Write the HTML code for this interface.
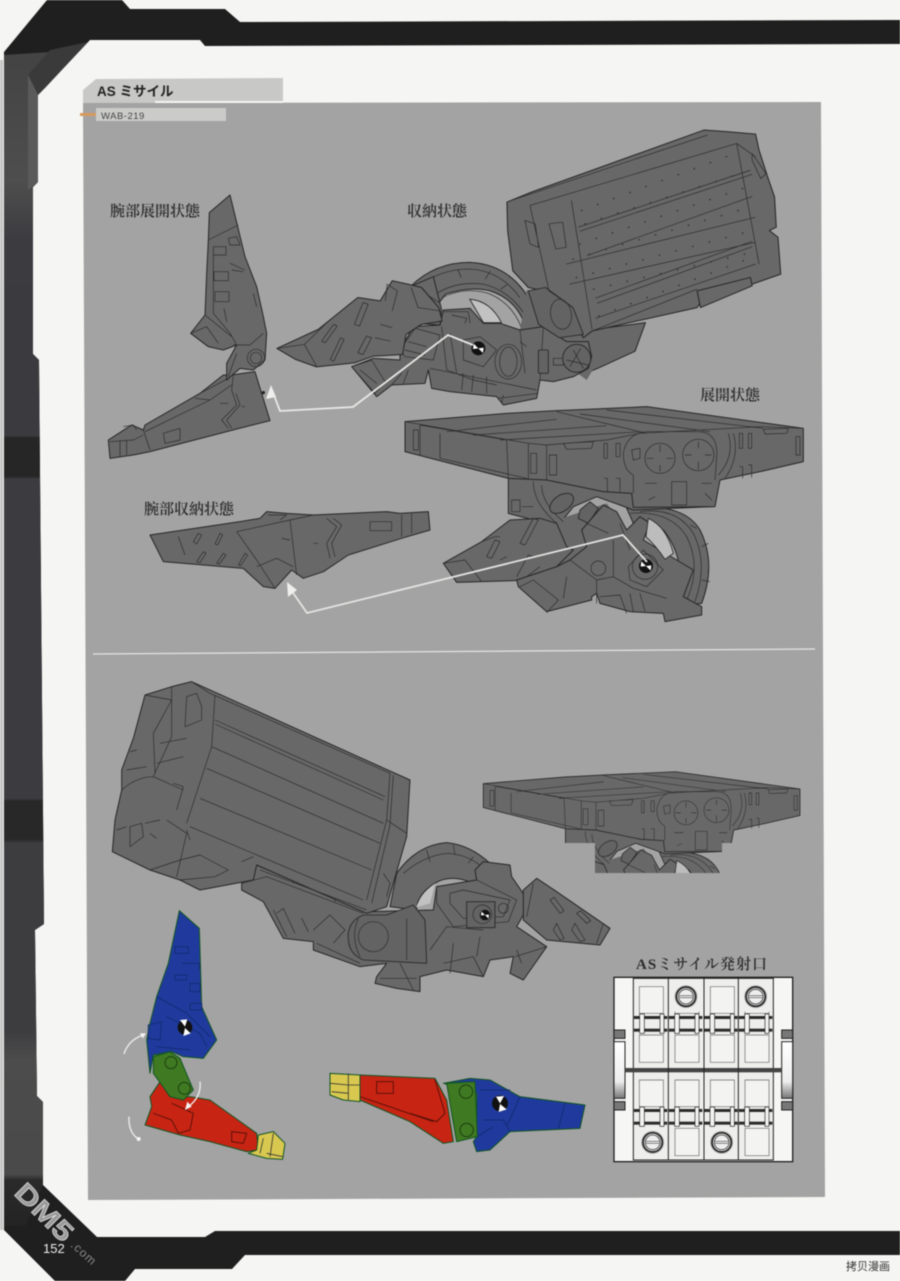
<!DOCTYPE html>
<html><head><meta charset="utf-8"><style>
html,body{margin:0;padding:0;background:#f5f5f3;overflow:hidden}
svg{display:block;filter:blur(.45px)}
.g{fill:#686868;stroke:#262626;stroke-width:3;stroke-linejoin:round}
.k{fill:#636363;stroke:#262626;stroke-width:2.6;stroke-linejoin:round}
.l{fill:none;stroke:#2b2b2b;stroke-width:2;stroke-linejoin:round}
.d{fill:none;stroke:#333;stroke-width:5;stroke-linecap:round;stroke-dasharray:0 50}
.lab{font-family:"Liberation Serif","Noto Serif CJK SC",serif;font-size:15px;fill:#2b2b2b;font-weight:600}
.c{stroke:#152;stroke-width:3;stroke-linejoin:round}
</style></head><body>
<svg width="900" height="1281" viewBox="0 0 900 1281" xmlns="http://www.w3.org/2000/svg">
<defs>
<linearGradient id="col" gradientUnits="userSpaceOnUse" x1="0" y1="55" x2="0" y2="1226">
<stop offset=".004" stop-color="#444"/><stop offset=".107" stop-color="#4e4e4e"/><stop offset=".158" stop-color="#3c3c40"/><stop offset=".325" stop-color="#3b3b3f"/>
<stop offset=".327" stop-color="#262626"/><stop offset=".360" stop-color="#262626"/><stop offset=".362" stop-color="#3c3c40"/><stop offset=".635" stop-color="#3c3c40"/>
<stop offset=".637" stop-color="#282828"/><stop offset=".670" stop-color="#282828"/><stop offset=".673" stop-color="#3d3d40"/><stop offset=".833" stop-color="#3d3d40"/>
<stop offset=".858" stop-color="#4c4c4c"/><stop offset=".956" stop-color="#4a4a4a"/><stop offset=".961" stop-color="#2a2a2a"/><stop offset="1" stop-color="#242424"/>
</linearGradient>
<linearGradient id="tab" x1="0" y1="0" x2="0" y2="1"><stop offset="0" stop-color="#fff"/><stop offset=".7" stop-color="#eee"/><stop offset="1" stop-color="#777"/></linearGradient>
<g id="tg"><circle r="21" fill="#111"/><path d="M-14,-14 L0,0 L-16,2 Z M14,14 L0,0 L16,-2 Z" fill="#fff"/></g>
<clipPath id="smallclip"><path d="M470,760H810V843H722V873H595V843H565V843H470Z"/></clipPath>

<!-- deployed launcher + arm, in zoom3 coordinates -->
<g id="dep">
<path class="g" d="M680,355 Q850,335 900,420 Q950,520 905,640 L820,650 Q870,520 790,420 L700,400Z"/>
<path class="l" d="M690,370 Q810,360 860,440 Q905,530 860,630 M720,365 Q830,350 880,430 Q925,520 885,635 M870,405 L890,415 M905,470 L925,460 M905,570 L930,575"/>
<path class="g" d="M325,265 L325,370 L400,390 L480,400 L520,350 L590,320 L660,345 L700,360 L940,350 L945,270 L700,250 L400,250Z"/>
<path d="M470,390 L620,340 L680,420 L620,540 L480,535Z" fill="#686868"/>
<path class="l" d="M400,275 Q400,340 470,400 M425,285 Q425,340 490,395 M335,330 L360,330 L360,365 L335,365Z M365,350 L400,350"/>
<ellipse class="k" cx="485" cy="340" rx="40" ry="24" transform="rotate(-35 485 340)"/>
<path class="k" d="M540,360 L570,335 L595,355 L565,400 L535,385Z"/>
<path class="g" d="M130,520 L245,455 L330,390 L420,385 L470,400 L500,470 L520,480 L470,530 L380,560 L345,572 L170,577Z"/>
<path class="l" d="M130,520 L195,510 L245,575 M245,455 L285,440 L300,440 M360,460 L400,385 L415,390 L375,465Z M260,500 L285,450 L300,455 L275,505Z M300,510 L320,500 M420,530 L380,560 M350,560 L385,495 L400,500"/>
<path class="g" d="M510,510 L560,470 L545,420 L610,345 L650,365 L680,420 L720,380 L750,400 L730,450 L830,510 L880,540 L850,620 L905,650 L905,675 L795,695 L790,670 L690,665 L600,640 L590,610 L575,620 L575,630 L440,665 L355,590 L350,570 L470,530Z"/>
<path d="M745,385 Q800,410 820,490 L795,508 Q770,470 738,440Z" fill="#bcbcbc" stroke="#262626" stroke-width="2.5"/>
<path class="l" d="M510,510 L590,570 L640,560 L700,595 L800,625 M590,570 L590,640 M640,450 L640,560 M360,590 L400,570 L475,630 L440,668 M500,560 L490,625 M600,620 L660,615 L680,670 M690,610 L700,668 M720,610 L735,665 M560,400 L625,430 M660,400 L690,480"/>
<circle class="l" cx="595" cy="535" r="22"/><path class="l" d="M685,530 L730,480 L790,540 L740,590 L690,570Z"/><circle class="l" cx="735" cy="530" r="38"/>
<use href="#tg" x="738" y="528"/>
<path class="g" d="M15,95 L320,70 L470,62 L740,50 L1210,115 L1210,215 L1080,245 L960,270 L945,350 L700,352 L695,310 L610,305 L440,270 L325,265 L15,185Z"/>
<path class="l" d="M15,95 L385,160 L440,165 L620,150 L720,130 L1080,110 L1210,115 M60,105 L60,195 M60,105 L320,150 L325,265 M120,130 L120,205 L380,265 M140,125 L470,88 M220,135 L620,107 M300,150 L725,125 M470,65 L740,130 M620,60 L1090,115 M540,72 L930,125 M385,160 L385,270 M440,165 L440,270 M700,255 L700,310 M40,120 L55,120 L55,180 L40,180Z M392,190 L410,190 L410,250 L392,250Z M448,195 L470,195 L470,255 L448,255Z M490,160 L580,155 L575,175 L500,178Z M612,160 L622,160 L622,205 L612,205Z M648,160 L660,160 L660,200 L648,200Z M612,265 L622,265 L622,305 M648,265 L660,265 L660,305 M1018,130 L1028,130 L1028,175 L1018,175Z M1045,130 L1055,130 L1055,175 L1045,175Z M1018,230 L1028,230 L1028,265 M1045,225 L1055,225 L1055,262 M1188,140 L1200,140 L1200,195 L1188,195Z M1090,118 L1165,115 L1160,130 L1095,132Z M815,275 L860,275 L860,345 L815,345Z M735,280 L770,280 M905,280 L935,280 M745,330 L765,320 M915,310 L935,330"/>
<path class="l" d="M700,255 Q670,240 670,190 Q680,130 740,125 L900,125 Q955,130 950,200 L945,270 M985,130 Q1005,200 955,255 M1000,130 Q1020,200 975,265"/>
<circle class="l" cx="780" cy="205" r="45"/><circle class="l" cx="895" cy="195" r="47"/>
<path class="l" d="M780,165 V185 M780,225 V245 M740,205 H760 M800,205 H820 M895,155 V175 M895,215 V238 M855,195 H875 M915,195 H935"/>
<path class="l" d="M695,180 L720,175 L720,205 L700,210Z"/>
</g>

<!-- launcher cell -->
<g id="cellT"><path d="M18,25 H90 V105 H18Z M18,170 H90 V252 H18Z" fill="#f3f3f1" stroke="#666" stroke-width="2"/></g>
<g id="band"><rect x="0" y="0" width="100" height="9" fill="#2b2b2b"/><rect x="0" y="38" width="100" height="9" fill="#2b2b2b"/><rect x="17" y="-6" width="14" height="58" fill="#f2f2f0" stroke="#222" stroke-width="2"/><rect x="78" y="-6" width="12" height="58" fill="#f2f2f0" stroke="#222" stroke-width="2"/></g>
<g id="port"><circle r="33" fill="none" stroke="#999" stroke-width="2"/><circle r="29" fill="#cfcfcf" stroke="#222" stroke-width="5"/><circle r="22" fill="#eee" stroke="#444" stroke-width="2.5"/><path d="M-20,-3 H20 M-20,3 H20" stroke="#444" stroke-width="2"/></g>
</defs>

<rect width="900" height="1281" fill="#f5f5f3"/>
<!-- frame -->
<path d="M4,52 L47,0 L122,0 L130,9 L225,9 L240,22 L900,20 L900,44 L205,46 L200,40 L90,40 L38,95 L38,182 L33,187 L33,354 L39,360 L44,924 L35,930 L37,1096 L43,1102 L43,1185 L97,1237 L205,1237 L215,1231 L900,1231 L900,1255 L245,1255 L232,1269 L135,1269 L125,1281 L55,1281 L4,1230Z" fill="#1f1f1f"/>
<path d="M4,55 L50,52 L38,95 L38,182 L33,187 L33,354 L39,360 L44,924 L35,930 L37,1096 L43,1102 L43,1185 L26,1225 L4,1226Z" fill="url(#col)"/>
<path d="M50,50 L88,42 L45,88 L38,95 L28,75Z" fill="#3a3a3a"/>
<path d="M28,75 L38,95 L38,182 L28,190Z" fill="#5a5a5a"/>
<rect x="0" y="60" width="3" height="1170" fill="#c4c4c4"/>

<!-- panel -->
<path d="M83,103 L821,102 L825,1197 L88,1200Z" fill="#a3a3a3"/>
<path d="M83,90 L96,79 L283,78 L283,101 L155,103 L83,103Z" fill="#c8c8c6"/>
<rect x="155" y="101" width="128" height="2" fill="#f5f5f3"/>
<rect x="96" y="108" width="130" height="13" fill="#cbcbc9"/>
<rect x="80" y="113" width="16" height="3" fill="#d69a5f"/>
<text x="97" y="96" font-family="'Liberation Sans','Noto Sans CJK JP',sans-serif" font-size="13.5" font-weight="700" fill="#222">AS ミサイル</text>
<text x="101" y="119" font-family="'Liberation Sans',sans-serif" font-size="9.5" letter-spacing=".5" fill="#444">WAB-219</text>
<path d="M93,654 L815,649" stroke="#e4e4e2" stroke-width="1.2"/>

<text class="lab" x="110" y="216">腕部展開状態</text>
<text class="lab" x="407" y="216">収納状態</text>
<text class="lab" x="700" y="400">展開状態</text>
<text class="lab" x="144" y="514">腕部収納状態</text>
<text class="lab" x="636" y="969" textLength="131">ASミサイル発射口</text>

<!-- stowed top -->
<g transform="translate(270,120) scale(.3444,.335)">
<path class="g" d="M900,650 L940,625 L1090,605 L1060,690 L950,742 L930,750Z"/>
<path class="g" d="M410,495 Q480,425 580,425 Q690,430 750,530 L795,625 L745,630 Q725,540 640,510 Q580,495 510,520 L480,560Z"/>
<path class="l" d="M430,500 Q490,445 580,445 Q670,450 725,530 M480,520 Q540,480 620,490 Q700,510 745,590 M500,530 Q570,495 640,520 Q705,550 730,620 M545,445 L555,470 M640,450 L625,475 M690,490 L670,505"/>
<path d="M580,535 Q640,540 672,605 L620,605 Z" fill="#c2c2c2" stroke="#262626" stroke-width="2.5"/>
</g>
<!-- stowed middle body (340,270 at 1/3) -->
<g transform="translate(340,270) scale(.33333)">
<path d="M700,100 L560,60 L540,180 L740,330 L800,230Z" fill="#686868"/>
<path class="g" d="M180,240 L220,170 L300,165 L310,120 L390,115 L430,160 L480,160 L540,180 L610,170 L680,215 L745,215 L755,260 L745,295 L700,320 L640,335 L600,330 L590,385 L490,405 L470,380 L330,365 L275,355 L265,300 L255,340 L155,345 L110,380 L35,290 L100,265 L180,270Z"/>
<path class="g" d="M210,50 L280,20 L305,120 L300,165 L230,160 L235,90 L170,80Z"/>
<path class="l" d="M180,240 L225,175 L300,195 L280,270 L195,260Z M205,215 L260,230 M195,240 L255,255 M35,290 L95,270 L135,335 L105,370Z M60,300 L110,340 M155,345 L185,310 M205,300 L190,340 M270,295 L590,360 M305,170 L320,300 L400,330 L470,345 M330,190 L350,310 M310,125 L385,125 L390,160 M335,135 L380,145 L375,160 M370,310 L365,360 M400,315 L395,365 M440,320 L440,370 M475,385 L595,370 M490,375 L485,400 M540,180 L555,310 M610,170 L600,330 M240,60 L300,100 M180,100 L240,120 M560,230 L540,215 M640,265 L670,265 L670,285 L640,285Z"/>
<path class="l" d="M370,210 L420,200 L470,240 L430,290 L370,270Z"/>
<rect class="k" x="595" y="240" width="30" height="70" rx="4"/>
<ellipse class="l" cx="505" cy="275" rx="40" ry="52"/><ellipse class="l" cx="505" cy="275" rx="26" ry="44"/>
<circle class="k" cx="710" cy="265" r="42"/><path class="l" d="M722,235 L690,290 M680,270 L745,285 M700,240 L730,295"/>
<use href="#tg" x="415" y="235"/>
</g>
<g transform="translate(270,120) scale(.3444,.335)">
<path class="g" d="M20,682 L140,625 L255,530 L320,540 L355,480 L400,490 L440,500 L490,560 L500,600 L440,610 L395,640 L385,700 L300,705 L245,725 L135,737 L75,715Z"/>
<path class="l" d="M20,682 L100,670 L135,735 M100,670 L170,600 M245,610 L270,545 L285,550 L260,615Z M150,660 L185,610 L195,615 L160,665Z M175,715 L205,650 L215,655 L185,720Z M255,695 L280,645 L295,650 L270,700Z M335,540 L340,490 L370,510 L355,570 M305,650 L350,660 M320,610 L355,620 M410,500 L430,560 L495,570"/>
<path class="g" d="M688,245 L760,215 L1260,30 L1330,35 L1410,42 L1420,90 L1445,170 L1465,230 L1470,320 L1450,330 L1475,350 L1483,460 L1400,490 L1260,530 L1240,560 L935,630 L910,650 L880,600 L795,510 L750,500 L705,450 L690,330Z"/>
<path class="g" d="M1240,510 L1250,560 L1400,495 L1395,470Z"/>
<path class="k" d="M750,510 L800,500 L880,560 L910,640 L840,650 L780,610Z"/>
<ellipse class="l" cx="845" cy="580" rx="30" ry="45" transform="rotate(-10 845 580)"/>
<path class="l" d="M755,255 L1355,70 L1410,110 M875,240 L935,625 M1355,70 L1420,430 M895,320 L1395,150 M900,332 L1400,162 M920,405 L1400,228 M860,430 L1410,290 M870,490 L1410,365 M945,532 L1400,362 M950,547 L1400,378 M945,592 L1410,430 M935,630 L1240,505 M700,240 L1270,45 M755,255 L810,510 L880,560 M740,300 L770,310 L780,380 L755,370Z M810,310 L850,305 L860,380 L830,385Z M1400,100 L1440,160 L1425,175 L1400,120Z"/>
<path class="d" d="M905,270 L1350,100"/><path class="d" d="M900,370 L1385,200"/><path class="d" d="M915,310 L1380,155"/>
<path class="d" d="M880,415 L1395,260"/><path class="d" d="M890,470 L1400,330"/><path class="d" d="M940,505 L1400,395"/><path class="d" d="M955,585 L1400,410"/>
</g>

<!-- arrows -->
<path d="M272,390 L280,411 L353,407 L448,335 L473,345" fill="none" stroke="#e8e8e6" stroke-width="1.8"/>
<path d="M271,385 L266,399 L276,397Z" fill="#efefed"/>

<!-- deployed -->
<g transform="translate(400,390) scale(.33333)"><use href="#dep"/></g>
<path d="M289,587 L307,613 L623,535 L647,562" fill="none" stroke="#e4e4e2" stroke-width="1.8"/>
<path d="M287,582 L288,597 L297,590Z" fill="#efefed"/>

<!-- arm unfolded -->
<g transform="translate(100,190) scale(.33333)">
<path class="g" d="M510,692 L465,545 L395,555 L370,555 L300,610 L135,705 L130,720 L95,705 L25,750 L30,805 L100,795 L150,785 L410,717Z"/>
<path class="l" d="M300,610 L385,565 M285,625 L330,630 L395,585 M130,720 L150,780 M135,725 L330,630 M190,730 L240,715 L240,750 L195,760Z M385,715 L365,690 L410,645 L395,600 L400,555 M395,715 L380,690 L420,645 L408,610 M30,755 L100,750 L130,735 M60,750 L60,800 M80,750 L80,795 M70,710 L100,705 L110,720 M360,640 L385,640 M425,650 L435,650"/>
<circle cx="490" cy="608" r="5" fill="#222"/>
<path class="g" d="M328,68 L390,15 L435,200 L470,290 L490,380 L500,430 L495,510 L460,540 L420,535 L380,570 L380,520 L410,465 L370,480 L325,470 L272,430 L315,375 L320,250 L325,150Z"/>
<path class="l" d="M325,150 L415,105 M340,170 H378 V195 H340Z M342,245 H385 V272 H342Z M345,305 H387 V335 H345Z M385,145 L410,140 L420,165 L390,165Z M390,220 L435,240 M395,240 L430,245 M460,310 L470,350 M372,355 L380,395 M340,190 L340,370 L390,430 L410,465 M272,430 L320,410 L355,460 M315,375 L395,440 M400,465 L450,465 L490,430 M410,490 L385,560"/>
<circle class="l" cx="468" cy="504" r="26"/><circle class="l" cx="468" cy="504" r="17"/>
<!-- arm stowed -->
<path class="g" d="M150,1035 L420,995 L480,985 L500,965 L560,970 L640,975 L860,965 L900,970 L985,965 L990,1020 L905,1045 L745,1095 L670,1145 L610,1165 L575,1140 L525,1195 L490,1190 L430,1135 L190,1115Z"/>
<path class="l" d="M410,1025 L470,1110 L525,1195 M410,1025 L570,990 L590,1155 M570,990 L640,975 M235,1040 L255,1095 M280,1055 L295,1030 L305,1035 L290,1062Z M345,1062 L360,1030 L368,1035 L353,1065Z M290,1115 L310,1085 L318,1090 L300,1118Z M350,1120 L370,1090 L378,1095 L358,1122Z M415,1125 L435,1090 L443,1095 L422,1127Z M680,985 L710,1010 L680,1060 L690,1105 M700,985 L725,1005 L695,1060 L705,1100 M810,995 H875 V1022 H810Z M905,975 L905,1040 M935,970 L935,1030 M470,1130 L530,1105 L580,1130 M545,1045 L570,1050 M505,975 L560,975 L540,990 M640,1060 H655"/>
</g>

<!-- bottom big -->
<g transform="translate(100,670) scale(.33333)">
<path class="g" d="M890,610 Q950,525 1040,518 Q1110,525 1170,580 L1140,650 Q1050,600 990,650 Q950,680 950,720 L870,710Z"/>
<path class="l" d="M910,610 Q975,555 1045,550 Q1105,555 1145,590 M980,540 L990,575 M1060,525 L1065,555 M1120,560 L1105,580"/>
<path d="M1005,640 Q965,668 948,712 L990,700Z" fill="#c2c2c2"/>
<path class="g" d="M1010,650 L1130,630 L1125,600 L1150,575 L1230,585 L1235,620 L1290,700 L1250,770 L1340,830 L1270,930 L1230,910 L1240,860 L1170,870 L1150,920 L1040,900 L960,920 L960,965 L890,955 L825,940 L830,920 L860,880 L780,890 L640,840 L640,815 L550,805 L490,695 L425,660 L425,640 L470,585 L800,725 L1000,720Z"/>
<path class="l" d="M425,640 L500,620 L790,730 M520,720 L560,800 M530,730 L550,715 L585,790 M605,745 L625,785 M640,780 L690,735 L735,780 L700,820 M650,820 L780,880 M1030,880 L1120,860 L1150,920 M990,840 L1040,770 L1150,780 M1140,800 L1130,860 M1060,820 L1050,910 M840,925 L950,925 M900,880 L940,960 M1010,650 L1130,630 L1250,690 L1225,755 L1060,770 L1010,700Z M1050,670 L1090,660 L1230,690 L1210,740 L1090,745 L1050,700Z M1245,860 L1340,830 M1250,840 L1265,880 M570,610 L580,640 M700,670 L705,695"/>
<rect class="k" x="1100" y="695" width="85" height="78"/>
<circle class="l" cx="1147" cy="733" r="28"/><circle class="l" cx="1210" cy="715" r="15"/>
<use href="#tg" transform="translate(1155,735) scale(.75)"/>
<path class="k" d="M790,735 L860,735 L940,705 L975,750 L980,880 L790,870 Q740,850 745,790 Q750,750 790,735Z"/>
<circle class="l" cx="820" cy="800" r="45"/><path class="l" d="M920,745 L920,870 M775,745 Q750,800 780,860"/>
<path class="g" d="M1270,660 L1310,625 L1370,665 L1530,775 L1500,825 L1340,810 L1270,750Z"/>
<path class="l" d="M1300,640 L1280,740 M1350,690 L1380,730 L1392,722 L1362,682Z M1430,730 L1460,760 L1472,752 L1442,722Z M1360,780 L1370,760 L1392,805 L1380,810Z M1415,780 L1425,760 L1455,810 L1440,815Z M1490,820 L1510,760"/>
<path class="g" d="M135,75 L215,50 L275,35 L930,330 L920,500 L880,640 L860,710 L800,730 L470,585 L460,630 L300,660 L240,630 L150,600 L37,545 L45,450 L65,360 L65,300 L100,205Z"/>
<path class="l" d="M345,75 L335,230 L260,460 M275,35 L330,70 L870,310 L860,450 L800,690 M880,315 L870,465 L815,700 M345,150 L855,380 M345,162 L850,390 M335,230 L850,460 M320,295 L840,520 M300,385 L815,600 M270,470 L790,690 M860,450 L920,490 M215,50 L215,200 L160,320 M135,75 L215,90 L160,190 L165,310 M260,80 L290,70 L305,110 L305,150 L255,170Z M65,360 Q110,320 160,320 L250,360 M50,480 L80,470 M135,460 L180,450 M80,300 L140,290 M170,280 L250,260 M90,245 L110,240 M180,220 L260,205 M90,470 L125,460 L130,500 L90,530Z M200,450 L260,490 L230,620 M150,600 L240,570 L300,555 L385,600 L345,620 L240,630 M150,490 L170,505 M425,575 L460,560 M480,600 L800,720 M260,480 L270,510 M220,340 L250,350 L230,420 M850,610 L870,640 L860,680"/>
</g>

<!-- small deployed, cropped -->
<g clip-path="url(#smallclip)"><g transform="translate(479.3,758.5) scale(.265)"><use href="#dep"/></g></g>

<!-- colored arms -->
<g transform="translate(100,900) scale(.33333)">
<path class="c" fill="#c82413" d="M180,545 L210,590 L270,590 L330,600 L470,700 L475,750 L440,755 L330,725 L240,705 L135,675 L155,620 L150,590Z"/>
<path d="M215,610 L280,640 L270,690 L235,700 L215,660 L160,640 M395,695 L440,700 L430,730 L395,725Z" fill="none" stroke="#5b1209" stroke-width="3"/>
<path class="c" fill="#d8c850" stroke="#333" d="M475,705 L520,695 L555,730 L548,778 L500,775 L445,760 L470,750Z"/>
<path d="M490,715 L480,760 M500,760 L548,770 M520,700 L510,770" fill="none" stroke="#333" stroke-width="2.5"/>
<path class="c" fill="#1f3a9c" stroke="#10205a" d="M238,32 L298,85 L305,320 L350,420 L310,475 L250,470 L215,455 L160,465 L150,520 L140,420 L150,370 L170,290 L205,190Z"/>
<path d="M225,140 H265 V160 H225Z M245,190 H298 V210 M225,225 H260 V240 H225Z M270,250 H300 V275 H270Z M270,310 H305 V330 H270Z M170,290 L260,340 L330,410 M145,375 L185,365 L180,420 L145,415Z M200,350 L300,400 L320,440 M170,440 L270,450" fill="none" stroke="#142c78" stroke-width="3"/>
<circle cx="255" cy="382" r="22" fill="#111"/><path d="M240,360 L255,380 L262,358Z M255,384 L250,408 L272,400Z" fill="#fff"/>
<path class="c" fill="#3f7a22" stroke="#1d3d10" d="M160,470 L210,455 L240,475 L280,570 L250,600 L210,590 Q175,540 160,520Z"/>
<circle cx="213" cy="488" r="18" fill="none" stroke="#1d3d10" stroke-width="3"/><circle cx="253" cy="565" r="18" fill="none" stroke="#1d3d10" stroke-width="3"/>

<path class="c" fill="#c82413" d="M780,525 L1005,535 L1040,600 L1060,725 L1030,730 L930,665 L780,600Z"/>
<path d="M830,545 H880 V580 H830Z M1005,540 L1035,640 L1010,665 L930,640 M780,590 L1000,665" fill="none" stroke="#5b1209" stroke-width="3"/>
<path class="c" fill="#d8c850" stroke="#333" d="M690,520 L780,525 L780,605 L730,600 L690,585Z"/>
<path d="M690,550 L745,555 L780,555 M745,520 V600 M695,575 L745,580" fill="none" stroke="#333" stroke-width="2.5"/>
<path class="c" fill="#1f3a9c" stroke="#10205a" d="M1030,550 L1110,535 L1170,540 L1260,590 L1455,615 L1440,685 L1230,695 L1170,750 L1130,755 L1120,725 L1130,710 L1130,580Z"/>
<path d="M1260,590 L1220,680 M1395,610 L1375,685 M1140,570 L1230,570 M1150,660 L1210,660 L1230,695 M1130,710 L1180,680" fill="none" stroke="#142c78" stroke-width="3"/>
<path class="c" fill="#3f7a22" stroke="#1d3d10" d="M1040,550 L1125,545 L1132,710 L1070,725 L1055,640Z"/>
<circle cx="1098" cy="575" r="20" fill="none" stroke="#1d3d10" stroke-width="3"/><circle cx="1100" cy="690" r="20" fill="none" stroke="#1d3d10" stroke-width="3"/>
<circle cx="1200" cy="610" r="24" fill="#111"/><path d="M1188,590 L1200,610 L1212,588Z M1200,612 L1196,636 L1220,628Z" fill="#fff"/>

<path d="M72,462 Q85,420 130,405" fill="none" stroke="#eee" stroke-width="4"/><path d="M138,400 L120,400 L128,415Z" fill="#f4f4f2"/>
<path d="M300,545 Q305,590 265,620" fill="none" stroke="#eee" stroke-width="4"/><path d="M255,630 L275,620 L262,605Z" fill="#f4f4f2"/>
<path d="M87,650 Q85,695 112,715" fill="none" stroke="#eee" stroke-width="4"/><circle cx="116" cy="717" r="6" fill="#f4f4f2"/>
</g>

<!-- launcher port diagram -->
<g transform="translate(600,940) scale(.33333)">
<rect x="42" y="112" width="536" height="553" fill="#f6f6f4" stroke="#222" stroke-width="4"/>
<rect x="100" y="115" width="420" height="545" fill="#eeeeec" stroke="#222" stroke-width="3"/>
<path d="M42,270 H75 V295 H42Z M545,270 H578 V295 H545Z M42,485 H75 V510 H42Z M545,485 H578 V510 H545Z" fill="#777" stroke="#222" stroke-width="3"/>
<rect x="42" y="305" width="33" height="170" fill="url(#tab)" stroke="#222" stroke-width="3"/>
<rect x="545" y="305" width="33" height="170" fill="url(#tab)" stroke="#222" stroke-width="3"/>
<rect x="75" y="384" width="470" height="13" fill="#444"/>
<path d="M205,115 V660 M312,115 V660 M415,115 V660" stroke="#222" stroke-width="3"/>
<use href="#cellT" x="100" y="115"/><use href="#cellT" x="207" y="115"/><use href="#cellT" x="313" y="115"/><use href="#cellT" x="417" y="115"/>
<use href="#cellT" x="100" y="395"/><use href="#cellT" x="207" y="395"/><use href="#cellT" x="313" y="395"/><use href="#cellT" x="417" y="395"/>
<use href="#band" x="102" y="228"/><use href="#band" x="207" y="228"/><use href="#band" x="313" y="228"/><use href="#band" x="417" y="228"/>
<use href="#band" x="102" y="507"/><use href="#band" x="207" y="507"/><use href="#band" x="313" y="507"/><use href="#band" x="417" y="507"/>
<rect x="210" y="125" width="95" height="90" fill="#eeeeec"/><rect x="420" y="125" width="95" height="90" fill="#eeeeec"/>
<rect x="105" y="562" width="95" height="90" fill="#eeeeec"/><rect x="317" y="562" width="95" height="90" fill="#eeeeec"/>
<use href="#port" x="258" y="170"/><use href="#port" x="467" y="170"/><use href="#port" x="158" y="607"/><use href="#port" x="365" y="607"/>
</g>

<!-- watermark / page -->
<text transform="translate(13,1194) rotate(45)" font-family="'Liberation Sans',sans-serif" font-weight="700" font-size="27" fill="#9a9a9a" stroke="#e0e0e0" stroke-width=".7" textLength="70" lengthAdjust="spacingAndGlyphs">DM5</text>
<text transform="translate(70,1246) rotate(42)" font-family="'Liberation Sans',sans-serif" font-size="12" fill="#8a8a8a" letter-spacing="1">.com</text>
<text x="43" y="1253" font-family="'Liberation Sans',sans-serif" font-size="13" fill="#eee">152</text>
<text x="846" y="1270" font-family="'Liberation Sans','Noto Sans CJK SC',sans-serif" font-size="11" fill="#333">拷贝漫画</text>
</svg>
</body></html>
